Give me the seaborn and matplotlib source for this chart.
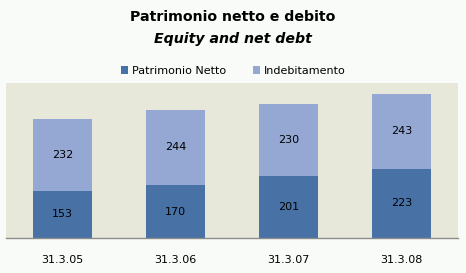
import matplotlib
matplotlib.use("Agg")
import matplotlib.pyplot as plt
import seaborn as sns
import pandas as pd
from matplotlib.patches import Patch

categories = ["31.3.05", "31.3.06", "31.3.07", "31.3.08"]
patrimonio = [153, 170, 201, 223]
indebitamento = [232, 244, 230, 243]
series_names = ["Patrimonio Netto", "Indebitamento"]

dark = "#4871A5"
light = "#94A8D3"
plot_bg = "#E8E8DA"
fig_bg = "#F8FBF8"

sns.set_style("white")
plt.rcParams["font.family"] = ["DejaVu Sans"]
plt.rcParams["text.color"] = "black"
plt.rcParams["xtick.color"] = "black"

df = pd.DataFrame({"cat": categories, "pn": patrimonio, "ind": indebitamento})
df["tot"] = df["pn"] + df["ind"]

fig = plt.figure(figsize=(4.66, 2.73), dpi=100, facecolor=fig_bg)
ax = fig.add_axes([6/466, 1-238/273, 452/466, 155/273])
ax.set_facecolor(plot_bg)

sns.barplot(data=df, x="cat", y="tot", color=light, width=0.515, ax=ax,
            saturation=1, edgecolor="none")
sns.barplot(data=df, x="cat", y="pn", color=dark, width=0.515, ax=ax,
            saturation=1, edgecolor="none")

for i, (p, d) in enumerate(zip(patrimonio, indebitamento)):
    ax.text(i, p/2, str(p), ha="center", va="center", fontsize=8, color="black")
    ax.text(i, p + d/2, str(d), ha="center", va="center", fontsize=8, color="black")

ax.set_xlim(-0.5, 3.5)
ax.set_ylim(0, 500)
ax.set_xlabel("")
ax.set_ylabel("")
ax.set_yticks([])
ax.tick_params(axis="x", length=0, pad=12, labelsize=8, labelcolor="black")
for s in ["top", "left", "right"]:
    ax.spines[s].set_visible(False)
ax.spines["bottom"].set_color("#8C8C8C")
ax.spines["bottom"].set_linewidth(1.0)

fig.text(0.5, 1-17/273, "Patrimonio netto e debito", ha="center", va="center",
         fontsize=10.2, fontweight="bold", color="black")
fig.text(0.5, 1-39/273, "Equity and net debt", ha="center", va="center",
         fontsize=10.2, fontweight="bold", fontstyle="italic", color="black")

handles = [Patch(facecolor=dark, edgecolor="none"), Patch(facecolor=light, edgecolor="none")]
fig.legend(handles, series_names, loc="center", bbox_to_anchor=(0.5, 1-71/273),
           ncol=2, frameon=False, fontsize=8, handlelength=0.7, handleheight=0.7,
           handletextpad=0.3, columnspacing=2.4, labelcolor="black")

fig.savefig("out.png", dpi=100, facecolor=fig_bg)
